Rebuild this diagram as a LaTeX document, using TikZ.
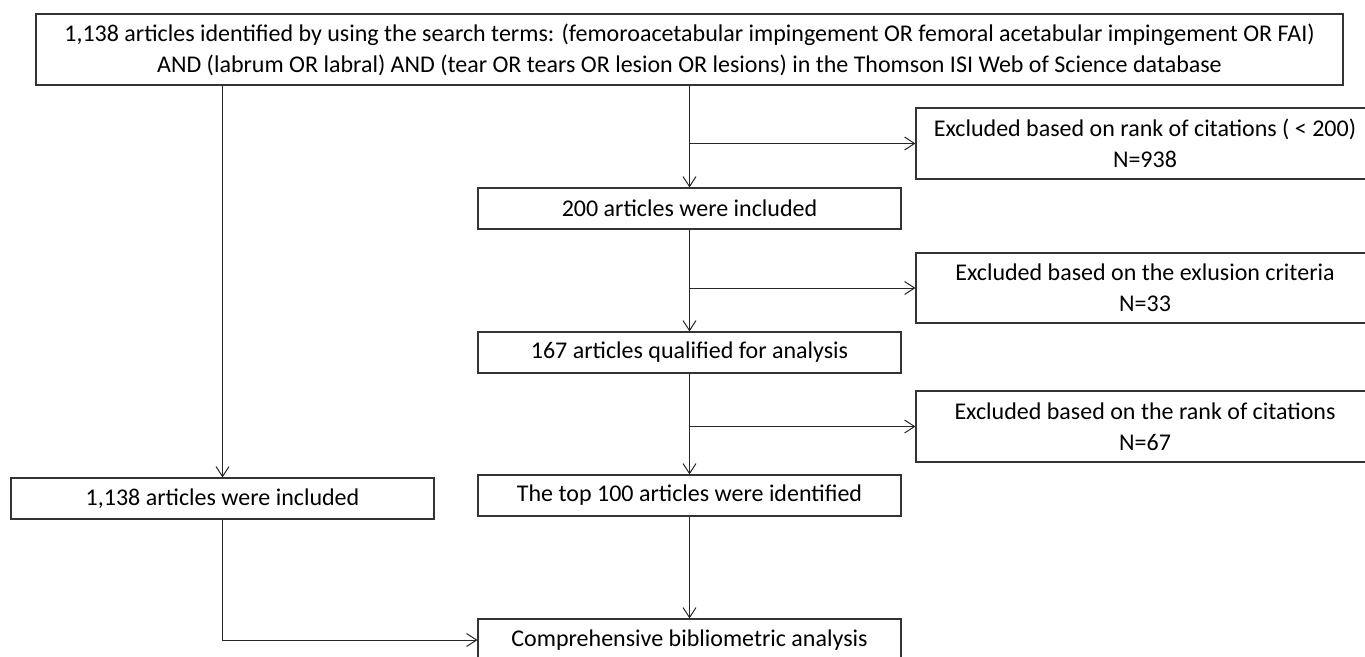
\documentclass[tikz,border=0pt]{standalone}
\usepackage{fontspec}
\setmainfont{Carlito}
\usetikzlibrary{arrows.meta}
\begin{document}
\begin{tikzpicture}[x=1pt,y=-1pt,
  box/.style={draw=black!80, line width=1.1pt, inner sep=0pt, align=center,
    font=\fontsize{24}{31}\selectfont},
  arr/.style={draw=black!85, line width=1pt, -{Straight Barb[length=10pt,width=13pt,line width=1pt]}},
  ln/.style={draw=black!85, line width=1pt}]
\useasboundingbox (0,0) rectangle (1365,656);
\clip (0,0) rectangle (1365,656);
\node[box, minimum width=1307pt, minimum height=71pt] (top) at (689.5,49.5)
  {1,138 articles identified by using the search terms: (femoroacetabular impingement OR femoral acetabular impingement OR FAI)\\
   AND (labrum OR labral) AND (tear OR tears OR lesion OR lesions) in the Thomson ISI Web of Science database};
\node[box, minimum width=423pt, minimum height=41pt] (lb) at (222.5,498.5) {1,138 articles were included};
\node[box, minimum width=423pt, minimum height=41pt] (b200) at (689.5,208.5) {200 articles were included};
\node[box, minimum width=423pt, minimum height=41pt] (b167) at (689.5,352.5) {167 articles qualified for analysis};
\node[box, minimum width=423pt, minimum height=41pt] (b100) at (689.5,495.5) {The top 100 articles were identified};
\node[box, minimum width=423pt, minimum height=42pt] (fin) at (689.5,640) {Comprehensive bibliometric analysis};
\node[box, minimum width=458pt, minimum height=71pt] (ex1) at (1145,143.5) {Excluded based on rank of citations ( < 200)\\N=938};
\node[box, minimum width=458pt, minimum height=70pt] (ex2) at (1145,288) {Excluded based on the exlusion criteria\\N=33};
\node[box, minimum width=458pt, minimum height=71pt] (ex3) at (1145,426.5) {Excluded based on the rank of citations\\N=67};
\draw[arr] (top.south -| lb.north) -- (lb.north);
\draw[arr] (top.south -| b200.north) -- (b200.north);
\draw[arr] (b200.north |- ex1.west) -- (ex1.west);
\draw[arr] (b200.south) -- (b167.north);
\draw[arr] (b167.north |- ex2.west) -- (ex2.west);
\draw[arr] (b167.south) -- (b100.north);
\draw[arr] (b100.north |- ex3.west) -- (ex3.west);
\draw[arr] (b100.south) -- (fin.north);
\draw[arr] (lb.south) |- (fin.west);
\end{tikzpicture}
\end{document}
